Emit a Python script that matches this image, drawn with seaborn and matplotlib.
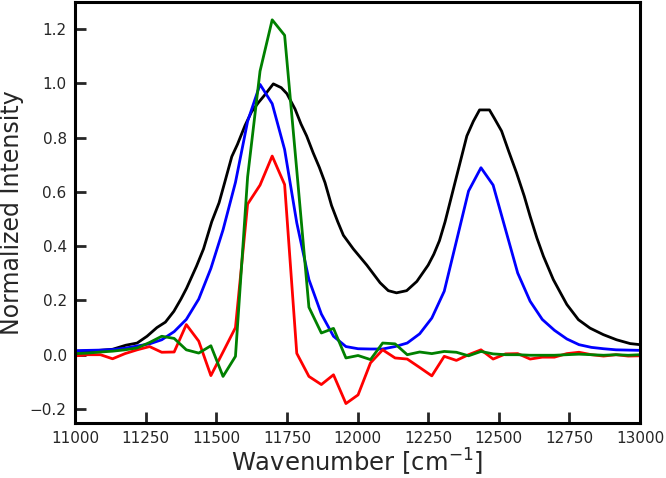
import numpy as np
import pandas as pd
import matplotlib
matplotlib.use("Agg")
import matplotlib.pyplot as plt
import seaborn as sns

# common wavenumber grid of the three measured spectra (cm^-1)
wn_grid = [11004, 11046, 11090, 11133, 11177, 11220, 11264, 11307, 11351, 11394,
           11438, 11481, 11524, 11568, 11611, 11655, 11698, 11742, 11785, 11828,
           11872, 11915, 11959, 12002, 12046, 12089, 12133, 12176, 12220, 12263,
           12307, 12350, 12393, 12437, 12480, 12524, 12567, 12611, 12654, 12697,
           12741, 12784, 12828, 12871, 12915, 12958, 13002]

blue_vals = [0.015, 0.016, 0.017, 0.019, 0.024, 0.032, 0.040, 0.055, 0.085, 0.130,
             0.205, 0.318, 0.460, 0.635, 0.860, 0.996, 0.925, 0.756, 0.486, 0.277,
             0.150, 0.068, 0.030, 0.022, 0.021, 0.021, 0.030, 0.043, 0.077, 0.135,
             0.234, 0.418, 0.603, 0.689, 0.625, 0.461, 0.301, 0.197, 0.130, 0.090,
             0.058, 0.037, 0.027, 0.022, 0.018, 0.017, 0.016]

red_vals = [-0.004, 0.000, 0.000, -0.015, 0.004, 0.018, 0.030, 0.009, 0.010, 0.111,
            0.050, -0.077, 0.010, 0.100, 0.555, 0.625, 0.732, 0.627, 0.005, -0.080,
            -0.110, -0.074, -0.180, -0.148, -0.030, 0.018, -0.012, -0.016, -0.047, -0.078,
            -0.006, -0.021, 0.000, 0.018, -0.016, 0.003, 0.004, -0.016, -0.009, -0.009,
            0.004, 0.009, 0.000, -0.005, 0.000, -0.005, -0.004]

green_vals = [0.004, 0.006, 0.010, 0.013, 0.018, 0.025, 0.045, 0.068, 0.060, 0.018,
              0.006, 0.033, -0.080, -0.006, 0.655, 1.045, 1.234, 1.177, 0.680, 0.175,
              0.080, 0.097, -0.012, -0.003, -0.018, 0.043, 0.040, 0.000, 0.010, 0.004,
              0.012, 0.009, -0.004, 0.012, 0.003, 0.000, 0.000, -0.002, -0.002, -0.002,
              0.000, 0.002, 0.000, -0.002, 0.000, -0.002, 0.000]

# black spectrum is sampled more finely
black_wn = [11000, 11086, 11133, 11180, 11220, 11255, 11290, 11320, 11350, 11375,
            11395, 11430, 11455, 11484, 11510, 11530, 11555, 11575, 11602, 11625,
            11650, 11670, 11702, 11730, 11750, 11779, 11800, 11820, 11843, 11865,
            11885, 11908, 11930, 11950, 11985, 12033, 12080, 12109, 12138, 12174,
            12210, 12250, 12270, 12290, 12310, 12345, 12387, 12410, 12432, 12467,
            12485, 12510, 12535, 12563, 12590, 12611, 12635, 12658, 12693, 12720,
            12741, 12782, 12823, 12870, 12917, 12965, 13000]
black_vals = [0.012, 0.016, 0.020, 0.035, 0.043, 0.068, 0.100, 0.120, 0.160, 0.205,
              0.245, 0.326, 0.390, 0.490, 0.560, 0.635, 0.730, 0.775, 0.845, 0.895,
              0.930, 0.955, 0.998, 0.984, 0.962, 0.905, 0.850, 0.806, 0.744, 0.690,
              0.634, 0.550, 0.490, 0.440, 0.390, 0.330, 0.265, 0.236, 0.228, 0.236,
              0.270, 0.330, 0.370, 0.420, 0.490, 0.634, 0.806, 0.860, 0.902, 0.902,
              0.870, 0.824, 0.750, 0.670, 0.585, 0.510, 0.430, 0.363, 0.277, 0.225,
              0.185, 0.129, 0.098, 0.074, 0.055, 0.041, 0.037]

sns.set_style("white")
plt.rcParams["font.family"] = ["DejaVu Sans"]

fig = plt.figure(figsize=(6.66, 4.78), dpi=100)
ax = fig.add_axes([0.1126, 0.116, 0.8484, 0.880])

lw = 2.0
sns.lineplot(x=black_wn, y=black_vals, ax=ax, color="black", linewidth=lw, sort=False)
sns.lineplot(x=wn_grid, y=blue_vals, ax=ax, color="blue", linewidth=lw, sort=False)
sns.lineplot(x=wn_grid, y=red_vals, ax=ax, color="red", linewidth=lw, sort=False)
sns.lineplot(x=wn_grid, y=green_vals, ax=ax, color="green", linewidth=lw, sort=False)

ax.set_xlim(11000, 13000)
ax.set_ylim(-0.25, 1.30)
ax.set_xticks([11000, 11250, 11500, 11750, 12000, 12250, 12500, 12750, 13000])
ax.set_yticks([-0.2, 0.0, 0.2, 0.4, 0.6, 0.8, 1.0, 1.2])

ax.tick_params(direction="in", length=8, width=2, labelsize=11, pad=6,
               bottom=True, left=True, top=False, right=False)
for sp in ax.spines.values():
    sp.set_linewidth(2.2)
    sp.set_color("black")

ax.set_xlabel("Wavenumber [cm$^{-1}$]", fontsize=17.5, labelpad=1)
ax.set_ylabel("Normalized Intensity", fontsize=17)

fig.savefig("out.png", dpi=100)
